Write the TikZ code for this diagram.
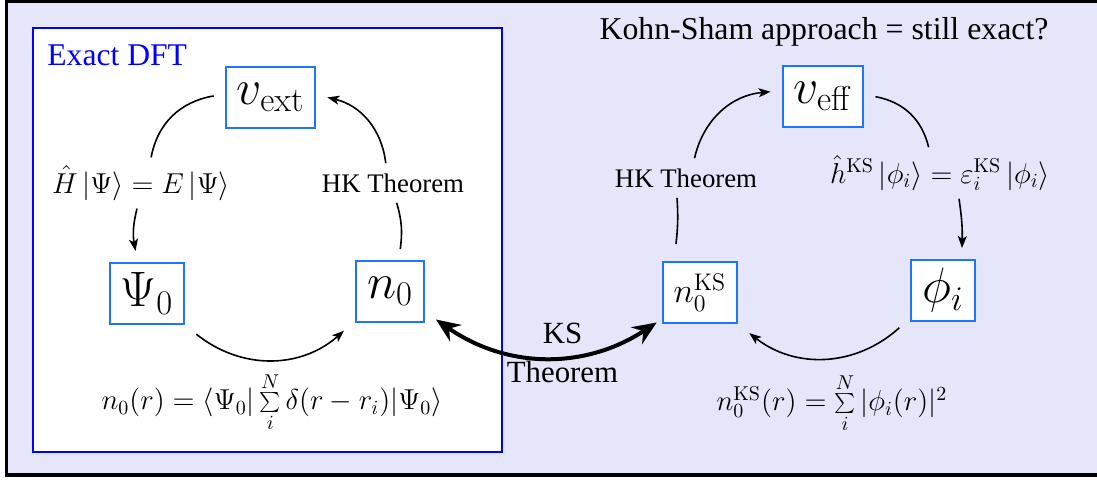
\documentclass[tikz,border=0pt]{standalone}
\usepackage[no-math]{fontspec}
\setmainfont{Liberation Serif}
\usetikzlibrary{arrows.meta}
\definecolor{lav}{RGB}{230,230,250}
\definecolor{boxblue}{RGB}{30,115,255}
\begin{document}
\begin{tikzpicture}[x=0.5pt,y=-0.5pt,
  qty/.style={draw=boxblue, line width=1pt, fill=white, minimum height=30.5pt,
    inner xsep=5.5pt, outer sep=6pt, font=\fontsize{23}{28}\selectfont},
  lab/.style={inner sep=4pt, font=\fontsize{14}{17}\selectfont},
  txt/.style={inner sep=5pt, font=\fontsize{13.4}{16}\selectfont},
  cyc/.style={line width=0.8pt},
  arr/.style={cyc, -{Stealth[length=6pt,width=4.5pt,inset=1.5pt]}},
  ksarr/.style={line width=2pt, {Stealth[length=12pt,width=10pt,inset=4pt]}-{Stealth[length=12pt,width=10pt,inset=4pt]}},
]
\useasboundingbox (0,0) rectangle (1097,480);
\draw[fill=lav, line width=1.75pt] (6.5,1.5) rectangle (1110,475);
\draw[fill=white, draw=blue, line width=1.2pt] (33,28) rectangle (502,452);

\node[blue, anchor=base west, inner sep=0pt, font=\fontsize{15.8}{19}\selectfont] (t1) at (47,66) {Exact DFT};
\node[anchor=base, inner sep=0pt, font=\fontsize{15.9}{19}\selectfont] (t2) at (824,40) {Kohn-Sham approach = still exact?};

% left cycle
\node[qty] (vext) at (270.5,97.5) {$v_{\mathrm{ext}}$};
\node[qty] (psi) at (147,293.5) {$\Psi_0$};
\node[qty] (n0) at (390,291.5) {$n_0$};
\node[lab] (Hl) at (141,183) {$\hat{H}\,|\Psi\rangle = E\,|\Psi\rangle$};
\node[txt] (HKl) at (393,183) {HK Theorem};
\node[lab] (f1) at (272,402) {$n_0(r) = \langle\Psi_0|\sum\limits_i^N\delta(r-r_i)|\Psi_0\rangle$};

\draw[cyc] (vext) to[bend right=35] (Hl);
\draw[arr] (Hl) to[bend right=12] (psi);
\draw[arr] (psi) to[bend right=40] (n0);
\draw[cyc] (n0) to[bend right=12] (HKl);
\draw[arr] (HKl) to[bend right=35] (vext);

% right cycle
\node[qty] (veff) at (823,96.5) {$v_{\mathrm{eff}}$};
\node[qty, font=\fontsize{18.5}{22}\selectfont] (nks) at (700,292.5) {$n_0^{\mathrm{KS}}$};
\node[qty] (phi) at (943,290.5) {$\phi_i$};
\node[txt] (HKr) at (686,178) {HK Theorem};
\node[lab] (hks) at (940,173) {$\hat{h}^{\mathrm{KS}}\,|\phi_i\rangle = \varepsilon_i^{\mathrm{KS}}\,|\phi_i\rangle$};
\node[lab] (f2) at (832,403) {$n_0^{\mathrm{KS}}(r) = \sum\limits_i^N|\phi_i(r)|^2$};

\draw[cyc] ([xshift=-12pt,yshift=3pt]nks.north) to[bend right=5] ([xshift=-4.5pt]HKr.south);
\draw[arr] (HKr) to[bend left=36] (veff);
\draw[cyc] (veff) to[bend left=33] (hks);
\draw[arr] ([xshift=9.5pt]hks.south) to[bend left=5] ([xshift=9.5pt]phi.north);
\draw[arr] (phi) to[bend left=40] (nks);

% KS theorem
\draw[ksarr] ([yshift=-14pt]n0.east) to[bend right=34] ([xshift=3pt,yshift=-15pt]nks.west);
\node[align=center, inner sep=0pt, font=\fontsize{15.4}{19.5}\selectfont] (kst) at (562.5,352.5) {KS\\Theorem};
\end{tikzpicture}
\end{document}
